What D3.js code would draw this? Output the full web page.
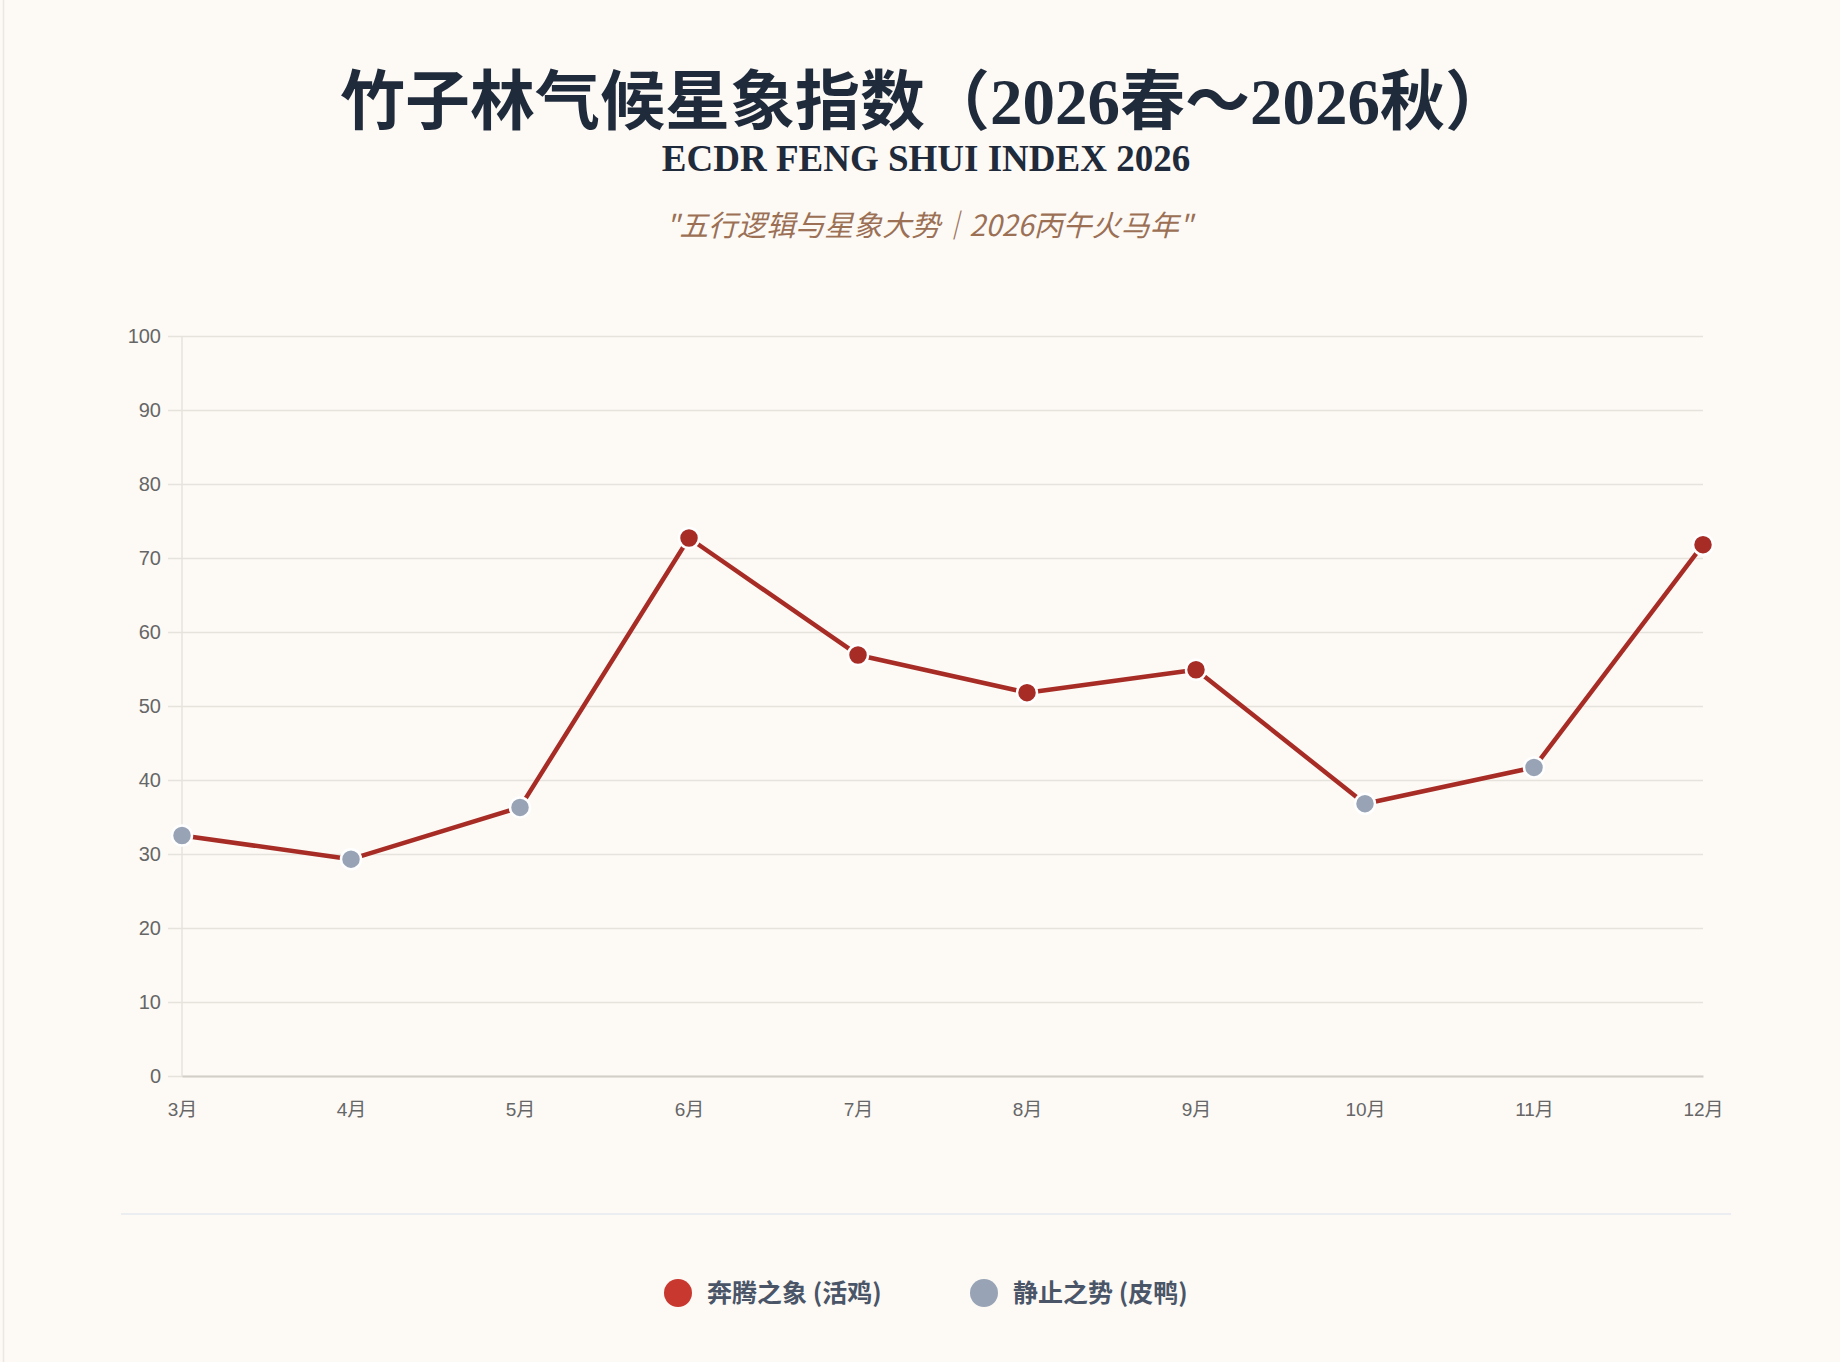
<!DOCTYPE html>
<meta charset="utf-8">
<script src="https://d3js.org/d3.v7.min.js" charset="utf-8"></script>
<style>
  html, body { margin: 0; padding: 0; background: #fdfaf6; }
</style>
<body>
<div id="draw"></div>
</body>
<script>

  // data
  var months = ["3月", "4月", "5月", "6月", "7月", "8月", "9月", "10月", "11月", "12月"];
  var values = [32.5, 29.3, 36.3, 72.7, 56.9, 51.8, 54.9, 36.8, 41.7, 71.8];
  var yTicks = [0, 10, 20, 30, 40, 50, 60, 70, 80, 90, 100];
  var legendLabels = ["奔腾之象 (活鸡)", "静止之势 (皮鸭)"];
  var threshold = 50; // points at or above this are 活鸡, below are 皮鸭

  var width = 1840;
  var height = 1362;
  var margins = {top: 336, bottom: 286, left: 182, right: 137};
  var midX = 926;

  var red = "#a82c26";
  var legendRed = "#c8382f";
  var grey = "#98a4b6";
  var gridColor = "#e6e2dc";

  var svg = d3.select("#draw")
    .append("svg")
    .attr("width", width)
    .attr("height", height)
    .style("display", "block");

  svg.append("rect").attr("width", width).attr("height", height).attr("fill", "#fdfaf6");
  // faint page edge on the left
  svg.append("line").attr("x1", 3.5).attr("x2", 3.5).attr("y1", 0).attr("y2", height)
    .attr("stroke", "#ece7e0").attr("stroke-width", 1.5);

  // titles
  svg.append("text")
    .attr("x", midX - 1).attr("y", 124)
    .attr("text-anchor", "middle")
    .style("font-family", "'Liberation Serif', 'Noto Sans CJK SC', serif")
    .style("font-weight", "bold")
    .style("font-size", "65px")
    .style("fill", "#1f2a3b")
    .text("竹子林气候星象指数（2026春～2026秋）");

  svg.append("text")
    .attr("x", midX).attr("y", 171)
    .attr("text-anchor", "middle")
    .style("font-family", "'Liberation Serif', serif")
    .style("font-weight", "bold")
    .style("font-size", "37px")
    .style("fill", "#1f2a3b")
    .text("ECDR FENG SHUI INDEX 2026");

  svg.append("text")
    .attr("x", midX + 3).attr("y", 236)
    .attr("text-anchor", "middle")
    .style("font-family", "'Noto Sans CJK SC', sans-serif")
    .style("font-style", "italic")
    .style("font-size", "29px")
    .style("fill", "#9b7055")
    .text("\"五行逻辑与星象大势｜2026丙午火马年\"");

  var chart = svg.append("g");

  var x = d3.scalePoint()
    .domain(months)
    .range([margins.left, width - margins.right]);

  var y = d3.scaleLinear()
    .domain([0, 100])
    .range([height - margins.bottom, margins.top]);

  // horizontal grid + y axis
  var yAxis = d3.axisLeft(y)
    .tickValues(yTicks)
    .tickSize(-(width - margins.right - margins.left))
    .tickPadding(7);

  var yg = chart.append("g")
    .attr("transform", "translate(" + margins.left + ",0)")
    .call(yAxis);
  yg.select(".domain").remove();
  yg.selectAll(".tick line")
    .attr("x1", -14)
    .attr("stroke", gridColor)
    .attr("stroke-width", 1.5);
  yg.selectAll(".tick text")
    .attr("x", -21)
    .style("font-family", "'Liberation Sans', Arial, sans-serif")
    .style("font-size", "20px")
    .style("fill", "#666");

  // vertical axis line
  chart.append("line")
    .attr("x1", margins.left).attr("x2", margins.left)
    .attr("y1", y(100)).attr("y2", y(0))
    .attr("stroke", gridColor).attr("stroke-width", 1.5);

  // bottom axis
  var xAxis = d3.axisBottom(x).tickSize(0).tickPadding(27);
  var xg = chart.append("g")
    .attr("transform", "translate(0," + y(0) + ")")
    .call(xAxis);
  xg.select(".domain")
    .attr("stroke", "#d3cec7")
    .attr("stroke-width", 2);
  xg.selectAll(".tick text")
    .style("font-family", "'Liberation Sans', Arial, 'Noto Sans CJK SC', sans-serif")
    .style("font-size", "19px")
    .style("fill", "#666");

  // series
  var points = months.map(function(m, i) { return {month: m, value: values[i]}; });

  var line = d3.line()
    .x(function(d) { return x(d.month); })
    .y(function(d) { return y(d.value); });

  chart.append("path")
    .datum(points)
    .attr("d", line)
    .attr("fill", "none")
    .attr("stroke", red)
    .attr("stroke-width", 4.5)
    .attr("stroke-linejoin", "round");

  chart.selectAll("circle.pt")
    .data(points)
    .enter().append("circle")
    .attr("class", "pt")
    .attr("cx", function(d) { return x(d.month); })
    .attr("cy", function(d) { return y(d.value); })
    .attr("r", 10)
    .attr("fill", function(d) { return d.value >= threshold ? red : grey; })
    .attr("stroke", "#ffffff")
    .attr("stroke-width", 2.5);

  // legend
  svg.append("line")
    .attr("x1", 121).attr("x2", 1731)
    .attr("y1", 1214).attr("y2", 1214)
    .attr("stroke", "#e6e9ef").attr("stroke-width", 1.5);

  var legendX = [678, 984];
  var legend = svg.selectAll("g.legend")
    .data(legendLabels)
    .enter().append("g")
    .attr("class", "legend")
    .attr("transform", function(d, i) { return "translate(" + legendX[i] + ",1293)"; });

  legend.append("circle")
    .attr("r", 14)
    .attr("fill", function(d, i) { return i === 0 ? legendRed : grey; });

  legend.append("text")
    .attr("x", 29)
    .attr("dy", "0.35em")
    .style("font-family", "'Noto Sans CJK SC', sans-serif")
    .style("font-weight", "bold")
    .style("font-size", "25px")
    .style("fill", "#4a5568")
    .text(function(d) { return d; });

</script>
